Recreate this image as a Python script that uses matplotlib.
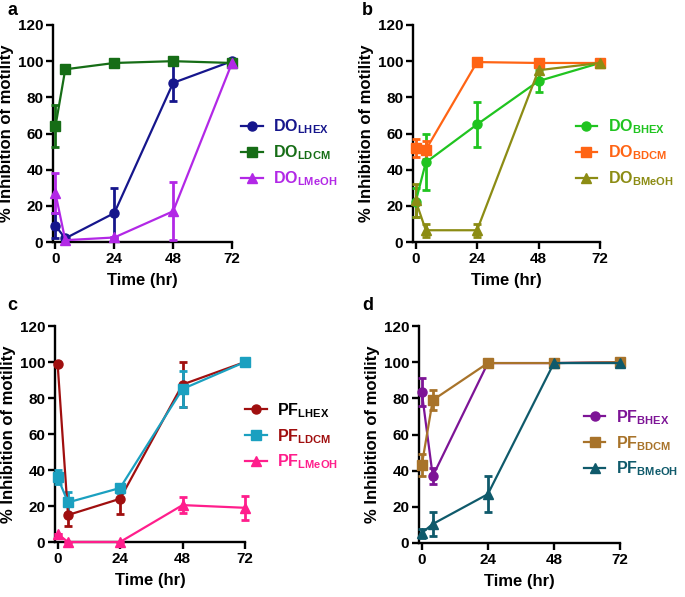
import matplotlib
matplotlib.use("Agg")
import matplotlib.pyplot as plt
from matplotlib.lines import Line2D

plt.rcParams['font.family'] = ['Liberation Sans', 'DejaVu Sans']
plt.rcParams['font.weight'] = 'bold'
plt.rcParams['mathtext.fontset'] = 'custom'
plt.rcParams['mathtext.rm'] = 'Liberation Sans:bold'
plt.rcParams['mathtext.bf'] = 'Liberation Sans:bold'
plt.rcParams['mathtext.it'] = 'Liberation Sans:bold'

time = [0, 4, 24, 48, 72]
xticks = [0, 24, 48, 72]
yticks = [0, 20, 40, 60, 80, 100, 120]

# Panel a
a_hex = [9, 2, 16, 88, 100]
a_hex_err = [7, 0, 14, 10, 0]
a_dcm = [64, 95.5, 99, 100, 99]
a_dcm_err = [11.5, 0, 0, 0, 0]
a_meoh = [27, 1, 2.5, 17, 99]
a_meoh_err = [11, 0, 0, 16, 0]

# Panel b
b_hex = [22, 44, 65, 89, 99]
b_hex_err = [8, 15.5, 12.5, 6, 0]
b_dcm = [52, 51, 99.5, 99, 99]
b_dcm_err = [5, 5, 0, 0, 0]
b_meoh = [23, 6.5, 6.5, 95, 99]
b_meoh_err = [9, 3.5, 3.5, 5, 0]

# Panel c
c_hex = [99, 15, 24, 87.5, 100]
c_hex_err = [0, 6, 8.5, 12.5, 0]
c_dcm = [36, 22, 30, 85, 100]
c_dcm_err = [4, 6, 2.5, 10, 0]
c_meoh = [4.5, 0, 0, 20.5, 19]
c_meoh_err = [0, 0, 0, 4.5, 6.5]

# Panel d
d_hex = [83.5, 37, 99.5, 99.5, 100]
d_hex_err = [7.5, 4.5, 0, 0, 0]
d_dcm = [43, 79, 99.5, 99.5, 100]
d_dcm_err = [6, 5.5, 0, 0, 0]
d_meoh = [5.5, 10.5, 27, 99.5, 99.5]
d_meoh_err = [2.5, 6.5, 10, 0, 0]

panels = [
    dict(letter="a", name="DO", subs=["LHEX", "LDCM", "LMeOH"],
         series=[(a_hex, a_hex_err), (a_dcm, a_dcm_err), (a_meoh, a_meoh_err)],
         colors=["#16168c", "#166d16", "#b228e6"],
         textcolors=["#16168c", "#166d16", "#b228e6"],
         rect=(53, 25, 232, 242), leg=(1.05, 0.41)),
    dict(letter="b", name="DO", subs=["BHEX", "BDCM", "BMeOH"],
         series=[(b_hex, b_hex_err), (b_dcm, b_dcm_err), (b_meoh, b_meoh_err)],
         colors=["#20c420", "#ff6414", "#8c8c14"],
         textcolors=["#20c420", "#ff6414", "#8c8c14"],
         rect=(413, 25, 600, 242), leg=(0.87, 0.41)),
    dict(letter="c", name="PF", subs=["LHEX", "LDCM", "LMeOH"],
         series=[(c_hex, c_hex_err), (c_dcm, c_dcm_err), (c_meoh, c_meoh_err)],
         colors=["#a00f0f", "#1ba0c0", "#ff1e8c"],
         textcolors=["#000000", "#a00f0f", "#ff1e8c"],
         rect=(55, 326, 245, 542), leg=(1.0, 0.49)),
    dict(letter="d", name="PF", subs=["BHEX", "BDCM", "BMeOH"],
         series=[(d_hex, d_hex_err), (d_dcm, d_dcm_err), (d_meoh, d_meoh_err)],
         colors=["#7d1496", "#a8732a", "#0f5a6b"],
         textcolors=["#7d1496", "#a8732a", "#0f5a6b"],
         rect=(419, 326, 620, 543), leg=(0.82, 0.46)),
]

W, H = 685, 597
fig = plt.figure(figsize=(W / 100, H / 100), dpi=100)
markers = ["o", "s", "^"]
msizes = [6.5, 6.5, 7]

for p in panels:
    x0, y0, x1, y1 = p["rect"]
    ax = fig.add_axes([x0 / W, 1 - y1 / H, (x1 - x0) / W, (y1 - y0) / H])
    handles = []
    for (vals, err), col, mk, ms in zip(p["series"], p["colors"], markers, msizes):
        ax.errorbar(time, vals, yerr=err, color=col, marker=mk, markersize=ms,
                    linewidth=1.6, elinewidth=2, capsize=3.2, capthick=2,
                    clip_on=False, zorder=3)
        handles.append(Line2D([], [], color=col, marker=mk, markersize=ms, linewidth=1.6))
    labels = [r"$\mathrm{%s}_{\mathrm{%s}}$" % (p["name"], s) for s in p["subs"]]
    leg = ax.legend(handles, labels, loc="center left", bbox_to_anchor=p["leg"],
                    frameon=False, fontsize=11.5, handlelength=1.35, handletextpad=0.65,
                    labelspacing=0.45, borderaxespad=0, borderpad=0)
    for t, c in zip(leg.get_texts(), p["textcolors"]):
        t.set_color(c)
    ax.set_xlim(-1, 72)
    ax.set_ylim(0, 120)
    ax.set_xticks(xticks)
    ax.set_yticks(yticks)
    for s in ["top", "right"]:
        ax.spines[s].set_visible(False)
    for s in ["left", "bottom"]:
        ax.spines[s].set_linewidth(1.7)
    ax.tick_params(width=1.7, length=5, labelsize=11, pad=2)
    for lab in ax.get_xticklabels() + ax.get_yticklabels():
        lab.set_fontweight("bold")
    ax.set_xlabel("Time (hr)", fontsize=12, fontweight="bold", labelpad=5)
    ax.set_ylabel("% Inhibition of motility", fontsize=12, fontweight="bold", labelpad=3)
    lx = 7 if p["letter"] in "ac" else 362
    ly = 2 if p["letter"] in "ab" else 297
    fig.text(lx / W, 1 - ly / H, p["letter"], fontsize=13, fontweight="bold",
             va="top", ha="left")

fig.savefig("out.png", dpi=100)
